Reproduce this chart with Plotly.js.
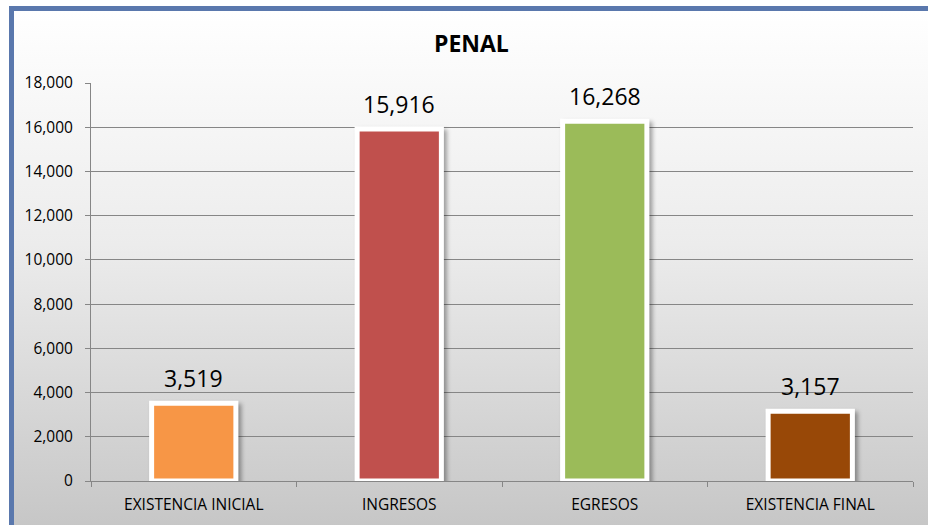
<!DOCTYPE html>
<html>
<head>
<meta charset="utf-8">
<script src="https://cdn.plot.ly/plotly-3.0.1.min.js"></script>
<style>
  html, body { margin: 0; padding: 0; background: #ffffff; }
  #frame {
    position: absolute; left: 9px; top: 6px; width: 924px; height: 524px;
    box-sizing: border-box;
    border-top: 5px solid #5a78ad; border-left: 5px solid #5a78ad;
    background: linear-gradient(to bottom, #ffffff 0%, #ececec 45%, #c6c6c6 100%);
  }
  #chart { position: absolute; left: 0; top: 0; width: 928px; height: 525px; }
  #chart .bars .point path { filter: drop-shadow(3px 3px 2px rgba(0,0,0,0.35)); }
</style>
</head>
<body>
<div id="frame"></div>
<div id="chart"></div>
<script>
const categories = ["EXISTENCIA INICIAL", "INGRESOS", "EGRESOS", "EXISTENCIA FINAL"];
const values = [3519, 15916, 16268, 3157];
const barColors = ["#f79646", "#c0504d", "#9bbb59", "#984807"];
const yTicks = [0, 2000, 4000, 6000, 8000, 10000, 12000, 14000, 16000, 18000];

const trace = {
  type: "bar",
  x: categories,
  y: values,
  marker: { color: barColors, line: { color: "#ffffff", width: 5 } },
  hoverinfo: "none"
};

const labelAnnotations = categories.map((c, i) => ({
  x: c, y: values[i], xref: "x", yref: "y",
  text: values[i].toLocaleString("en-US"),
  showarrow: false, yanchor: "bottom", yshift: 7,
  font: { family: "Open Sans, sans-serif", size: 23, color: "#000000" }
}));

const layout = {
  width: 928, height: 525,
  paper_bgcolor: "rgba(0,0,0,0)",
  plot_bgcolor: "rgba(0,0,0,0)",
  margin: { l: 91, r: 15, t: 83, b: 44 },
  bargap: 0.59,
  showlegend: false,
  annotations: labelAnnotations,
  title: {
    text: "<b>PENAL</b>",
    x: 0.508, xanchor: "center",
    y: 0.916, yanchor: "middle",
    font: { family: "Open Sans, sans-serif", size: 23, color: "#000000" }
  },
  xaxis: {
    type: "category",
    tickson: "boundaries",
    ticks: "outside", ticklen: 5, tickcolor: "#868686",
    ticklabelstandoff: 9,
    showline: true, linecolor: "#868686", linewidth: 1,
    showgrid: false,
    tickfont: { family: "Open Sans, sans-serif", size: 15.5, color: "#000000" }
  },
  yaxis: {
    range: [0, 18000],
    tickvals: yTicks,
    tickformat: ",",
    ticks: "outside", ticklen: 5, tickcolor: "#868686",
    ticklabelstandoff: 9,
    showline: true, linecolor: "#868686", linewidth: 1,
    showgrid: true, gridcolor: "#868686", gridwidth: 1,
    zeroline: false,
    tickfont: { family: "Open Sans, sans-serif", size: 15.5, color: "#000000" }
  }
};

Plotly.newPlot("chart", [trace], layout, { displayModeBar: false, staticPlot: true });
</script>
</body>
</html>
